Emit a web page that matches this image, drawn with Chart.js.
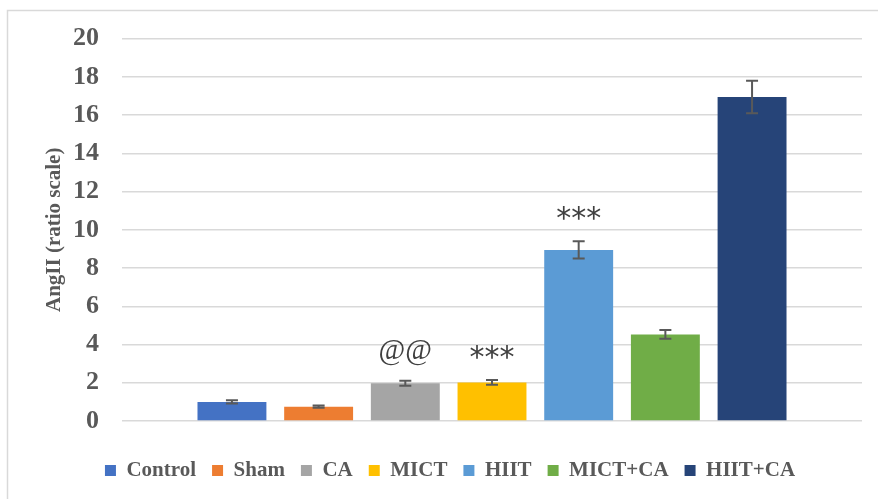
<!DOCTYPE html>
<html>
<head>
<meta charset="utf-8">
<script src="https://cdn.jsdelivr.net/npm/chart.js@4"></script>
<style>
    body { margin: 0; background: #fff; }
</style>
</head>
<body>
<canvas id="angii-chart" width="878" height="499"></canvas>
<script>
    // group data
    var groups = ['Control', 'Sham', 'CA', 'MICT', 'HIIT', 'MICT+CA', 'HIIT+CA'];
    var means = [1.0, 0.75, 1.97, 2.02, 8.95, 4.53, 16.95];
    var errors = [0.08, 0.06, 0.13, 0.13, 0.45, 0.23, 0.85];
    var marks = ['', '', '@@', '***', '***', '', ''];
    var colors = ['#4472C4', '#ED7D31', '#A5A5A5', '#FFC000', '#5B9BD5', '#70AD47', '#264478'];

    var serif = '"Liberation Serif", "Times New Roman", serif';
    var textColor = '#595959';

    var errorBars = {
        id: 'errorBars',
        afterDatasetsDraw: function (chart) {
            var ctx = chart.ctx;
            var y = chart.scales.y;
            ctx.save();
            chart.data.datasets.forEach(function (ds, i) {
                var bar = chart.getDatasetMeta(i).data[0];
                if (!bar) return;
                var v = ds.data[0], e = errors[i];
                var top = y.getPixelForValue(v + e);
                var bottom = y.getPixelForValue(v - e);
                ctx.strokeStyle = '#595959';
                ctx.lineWidth = 2;
                ctx.beginPath();
                ctx.moveTo(bar.x, top); ctx.lineTo(bar.x, bottom);
                ctx.moveTo(bar.x - 6, top); ctx.lineTo(bar.x + 6, top);
                ctx.moveTo(bar.x - 6, bottom); ctx.lineTo(bar.x + 6, bottom);
                ctx.stroke();
                // significance marks above the bar, glyphs centred ~28px over the cap
                if (marks[i]) {
                    ctx.fillStyle = '#404040';
                    ctx.font = marks[i].indexOf('*') >= 0 ? '30px "DejaVu Sans"' : '29px ' + serif;
                    ctx.textAlign = 'center';
                    ctx.textBaseline = 'alphabetic';
                    var m = ctx.measureText(marks[i]);
                    var mid = (m.actualBoundingBoxAscent - m.actualBoundingBoxDescent) / 2;
                    ctx.fillText(marks[i], bar.x, top - 28 + mid);
                }
            });
            ctx.restore();
        }
    };

    var outerBorder = {
        id: 'outerBorder',
        beforeDraw: function (chart) {
            var ctx = chart.ctx;
            ctx.save();
            ctx.strokeStyle = '#d9d9d9';
            ctx.lineWidth = 1.5;
            ctx.strokeRect(7.5, 10.5, 1000, 1000);
            ctx.restore();
        }
    };

    var ctx = document.getElementById('angii-chart').getContext('2d');
    new Chart(ctx, {
        type: 'bar',
        data: {
            labels: [''],
            datasets: groups.map(function (g, i) {
                return {
                    label: g,
                    data: [means[i]],
                    backgroundColor: colors[i],
                    categoryPercentage: 0.82,
                    barPercentage: 0.795
                };
            })
        },
        options: {
            responsive: false,
            animation: false,
            layout: {
                padding: { left: 38, right: 16, top: 30, bottom: 8 }
            },
            plugins: {
                tooltip: { enabled: false },
                legend: {
                    position: 'bottom',
                    labels: {
                        boxWidth: 11,
                        boxHeight: 11,
                        padding: 16,
                        color: textColor,
                        font: { family: serif, size: 21, weight: 'bold' }
                    }
                }
            },
            scales: {
                x: {
                    grid: { display: false },
                    border: { display: false },
                    ticks: { display: false },
                    afterFit: function (scale) { scale.height = 23; }
                },
                y: {
                    min: 0,
                    max: 20,
                    ticks: {
                        stepSize: 2,
                        padding: 23,
                        color: textColor,
                        font: { family: serif, size: 26, weight: 'bold' }
                    },
                    grid: { color: '#d9d9d9', lineWidth: 1.5, drawTicks: false },
                    border: { display: false },
                    title: {
                        display: true,
                        text: 'AngII (ratio scale)',
                        color: textColor,
                        font: { family: serif, size: 21, weight: 'bold' }
                    },
                    afterFit: function (scale) { scale.width = 84; }
                }
            }
        },
        plugins: [outerBorder, errorBars]
    });
</script>
</body>
</html>
